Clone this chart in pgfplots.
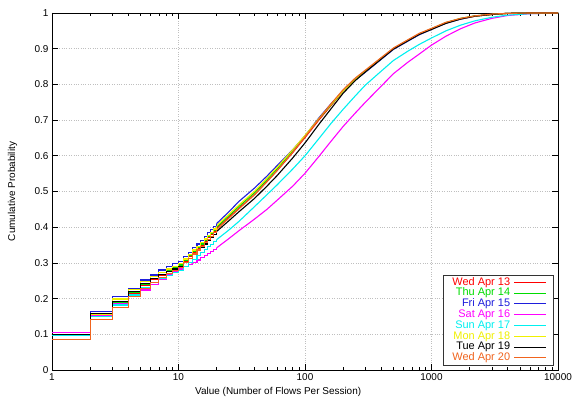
\documentclass[border=0pt]{standalone}
\usepackage{fontspec}
\setmainfont{Liberation Sans}
\usepackage{pgfplots}
\pgfplotsset{compat=1.18}
\definecolor{cRed}{RGB}{255,0,0}
\definecolor{cGreen}{RGB}{0,220,0}
\definecolor{cBlue}{RGB}{30,30,220}
\definecolor{cMag}{RGB}{255,0,255}
\definecolor{cCyan}{RGB}{0,240,240}
\definecolor{cYel}{RGB}{240,240,0}
\definecolor{cOra}{RGB}{240,100,30}
\begin{document}
\begin{tikzpicture}
\begin{axis}[
  scale only axis,
  width=506bp, height=357bp,
  xmode=log, xmin=1, xmax=10000, ymin=0, ymax=1,
  xtick={1,10,100,1000,10000},
  xticklabels={1,10,100,1000,10000},
  ytick={0,0.1,0.2,0.3,0.4,0.5,0.6,0.7,0.8,0.9,1},
  yticklabels={0,0.1,0.2,0.3,0.4,0.5,0.6,0.7,0.8,0.9,1},
  /pgf/number format/assume math mode=true,
  tick align=inside, xtick pos=both, ytick pos=both, ticklabel pos=left,
  major tick length=6bp, minor tick length=3bp,
  every tick/.style={black, line width=0.6pt},
  axis line style={black, line width=0.9pt},
  grid=major,
  major grid style={dotted, gray!50, line width=0.6pt},
  tick label style={font=\fontsize{10}{12}\selectfont},
  label style={font=\fontsize{10}{12}\selectfont},
  xlabel={Value (Number of Flows Per Session)},
  ylabel={Cumulative Probability},
  xlabel style={at={(axis description cs:0.447,-0.0616)}, anchor=center},
  ylabel style={at={(axis description cs:-0.078,0.5)}, anchor=center},
  legend plot pos=right,
  legend cell align=right,
  legend image code/.code={\draw[#1] (0bp,0bp) -- (32bp,0bp);},
  legend style={at={(0.99,0.014)}, anchor=south east, draw=black!80, fill=white,
    font=\fontsize{11}{12}\selectfont, inner xsep=6bp, inner ysep=1.5bp, row sep=0pt,
    nodes={inner xsep=3.5bp, inner ysep=0.4bp, text height=7.8bp, text depth=2.2bp}},
  every axis plot/.append style={line width=1.1bp},
]
% smooth parts (legend)
\addplot[cRed] coordinates {(20,0.397)(25,0.428)(30,0.453)(40,0.492)(50,0.528)(60,0.558)(80,0.609)(100,0.651)(130,0.702)(160,0.740)(200,0.780)(250,0.813)(300,0.836)(400,0.872)(500,0.900)(650,0.923)(800,0.941)(1000,0.955)(1300,0.972)(1700,0.984)(2200,0.991)(3000,0.996)(4000,0.999)(6000,1.0)(10000,1.0)};
\addlegendentry{\textcolor{cRed}{Wed Apr 13}}
\addplot[cGreen] coordinates {(20,0.400)(25,0.432)(30,0.458)(40,0.497)(50,0.533)(60,0.563)(80,0.614)(100,0.655)(130,0.705)(160,0.742)(200,0.781)(250,0.814)(300,0.837)(400,0.873)(500,0.900)(650,0.923)(800,0.941)(1000,0.956)(1300,0.973)(1700,0.985)(2200,0.992)(3000,0.996)(4000,0.999)(6000,1.0)(10000,1.0)};
\addlegendentry{\textcolor{cGreen}{Thu Apr 14}}
\addplot[cBlue] coordinates {(20,0.410)(25,0.443)(30,0.472)(40,0.510)(50,0.543)(60,0.572)(80,0.617)(100,0.656)(130,0.708)(160,0.745)(200,0.781)(250,0.812)(300,0.834)(400,0.870)(500,0.898)(650,0.921)(800,0.939)(1000,0.954)(1300,0.971)(1700,0.983)(2200,0.991)(3000,0.996)(4000,0.999)(6000,1.0)(10000,1.0)};
\addlegendentry{\textcolor{cBlue}{Fri Apr 15}}
\addplot[cMag] coordinates {(20,0.342)(25,0.368)(30,0.390)(40,0.423)(50,0.450)(60,0.475)(80,0.515)(100,0.551)(130,0.600)(160,0.640)(200,0.682)(250,0.720)(300,0.750)(400,0.795)(500,0.830)(650,0.862)(800,0.885)(1000,0.910)(1300,0.935)(1700,0.956)(2200,0.972)(3000,0.985)(4000,0.993)(6000,0.998)(10000,1.0)};
\addlegendentry{\textcolor{cMag}{Sat Apr 16}}
\addplot[cCyan] coordinates {(20,0.365)(25,0.392)(30,0.416)(40,0.458)(50,0.491)(60,0.518)(80,0.563)(100,0.600)(130,0.650)(160,0.690)(200,0.730)(250,0.768)(300,0.798)(400,0.837)(500,0.867)(650,0.893)(800,0.912)(1000,0.930)(1300,0.950)(1700,0.966)(2200,0.978)(3000,0.988)(4000,0.994)(6000,0.998)(10000,1.0)};
\addlegendentry{\textcolor{cCyan}{Sun Apr 17}}
\addplot[cYel] coordinates {(20,0.404)(25,0.436)(30,0.462)(40,0.501)(50,0.537)(60,0.567)(80,0.617)(100,0.657)(130,0.706)(160,0.743)(200,0.781)(250,0.813)(300,0.836)(400,0.872)(500,0.900)(650,0.923)(800,0.941)(1000,0.955)(1300,0.972)(1700,0.984)(2200,0.991)(3000,0.996)(4000,0.999)(6000,1.0)(10000,1.0)};
\addlegendentry{\textcolor{cYel}{Mon Apr 18}}
\addplot[black] coordinates {(20,0.388)(25,0.418)(30,0.443)(40,0.481)(50,0.515)(60,0.544)(80,0.594)(100,0.636)(130,0.690)(160,0.731)(200,0.775)(250,0.811)(300,0.835)(400,0.871)(500,0.899)(650,0.922)(800,0.940)(1000,0.954)(1300,0.971)(1700,0.983)(2200,0.991)(3000,0.996)(4000,0.999)(6000,1.0)(10000,1.0)};
\addlegendentry{\textcolor{black}{Tue Apr 19}}
\addplot[cOra] coordinates {(20,0.393)(25,0.425)(30,0.451)(40,0.491)(50,0.527)(60,0.558)(80,0.610)(100,0.653)(130,0.705)(160,0.745)(200,0.785)(250,0.818)(300,0.840)(400,0.875)(500,0.902)(650,0.925)(800,0.943)(1000,0.957)(1300,0.974)(1700,0.985)(2200,0.992)(3000,0.997)(4000,0.999)(6000,1.0)(10000,1.0)};
\addlegendentry{\textcolor{cOra}{Wed Apr 20}}
% step parts
\addplot[cRed, const plot, forget plot] coordinates {(1,0.100)(2,0.157)(3,0.190)(4,0.215)(5,0.238)(6,0.254)(7,0.265)(8,0.275)(9,0.283)(10,0.291)(11,0.304)(12,0.317)(13,0.329)(14,0.340)(15,0.350)(16,0.360)(17,0.370)(18,0.379)(19,0.388)(20,0.397)};
\addplot[cGreen, const plot, forget plot] coordinates {(1,0.100)(2,0.155)(3,0.190)(4,0.217)(5,0.240)(6,0.256)(7,0.268)(8,0.278)(9,0.286)(10,0.294)(11,0.307)(12,0.320)(13,0.332)(14,0.343)(15,0.353)(16,0.363)(17,0.373)(18,0.382)(19,0.391)(20,0.400)};
\addplot[cBlue, const plot, forget plot] coordinates {(1,0.100)(2,0.163)(3,0.205)(4,0.229)(5,0.252)(6,0.266)(7,0.280)(8,0.290)(9,0.298)(10,0.305)(11,0.318)(12,0.330)(13,0.342)(14,0.353)(15,0.363)(16,0.373)(17,0.384)(18,0.394)(19,0.402)(20,0.410)};
\addplot[cMag, const plot, forget plot] coordinates {(1,0.105)(2,0.152)(3,0.185)(4,0.212)(5,0.224)(6,0.240)(7,0.255)(8,0.267)(9,0.276)(10,0.283)(11,0.290)(12,0.296)(13,0.302)(14,0.308)(15,0.314)(16,0.320)(17,0.326)(18,0.332)(19,0.337)(20,0.342)};
\addplot[cCyan, const plot, forget plot] coordinates {(1,0.097)(2,0.149)(3,0.182)(4,0.210)(5,0.232)(6,0.246)(7,0.256)(8,0.265)(9,0.272)(10,0.279)(11,0.290)(12,0.300)(13,0.310)(14,0.320)(15,0.329)(16,0.337)(17,0.345)(18,0.352)(19,0.359)(20,0.365)};
\addplot[cYel, const plot, forget plot] coordinates {(1,0.100)(2,0.157)(3,0.199)(4,0.225)(5,0.247)(6,0.261)(7,0.273)(8,0.283)(9,0.291)(10,0.298)(11,0.311)(12,0.324)(13,0.336)(14,0.347)(15,0.357)(16,0.367)(17,0.377)(18,0.386)(19,0.395)(20,0.404)};
\addplot[black, const plot, forget plot] coordinates {(1,0.100)(2,0.159)(3,0.192)(4,0.219)(5,0.242)(6,0.256)(7,0.267)(8,0.276)(9,0.283)(10,0.289)(11,0.301)(12,0.313)(13,0.324)(14,0.334)(15,0.344)(16,0.353)(17,0.362)(18,0.371)(19,0.380)(20,0.388)};
\addplot[cOra, const plot, forget plot] coordinates {(1,0.085)(2,0.142)(3,0.175)(4,0.205)(5,0.228)(6,0.245)(7,0.259)(8,0.270)(9,0.279)(10,0.287)(11,0.300)(12,0.313)(13,0.325)(14,0.336)(15,0.346)(16,0.356)(17,0.366)(18,0.375)(19,0.384)(20,0.393)};
\end{axis}
\pgfresetboundingbox
\useasboundingbox ([xshift=-52bp,yshift=-34bp]current axis.south west) rectangle ([xshift=15bp,yshift=13bp]current axis.north east);
\end{tikzpicture}
\end{document}
